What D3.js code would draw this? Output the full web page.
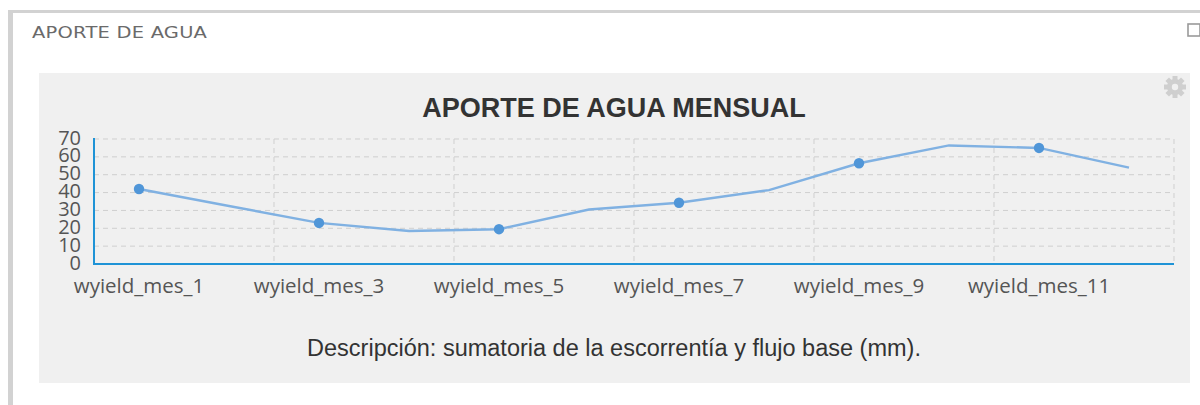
<!DOCTYPE html>
<html>
<head>
<meta charset="utf-8">
<script src="https://cdn.jsdelivr.net/npm/d3@7"></script>
<style>
  html, body { margin: 0; padding: 0; background: #fff; }
  svg { display: block; }
</style>
</head>
<body>
<svg id="chart" width="1200" height="405"></svg>
<script>
// Monthly water yield (mm)
const categories = ["wyield_mes_1","wyield_mes_2","wyield_mes_3","wyield_mes_4","wyield_mes_5","wyield_mes_6",
                    "wyield_mes_7","wyield_mes_8","wyield_mes_9","wyield_mes_10","wyield_mes_11","wyield_mes_12"];
const values = [42, 32.5, 23, 18.5, 19.5, 30.5, 34.3, 41.4, 56.4, 66.4, 65, 54];
const yTicks = [0, 10, 20, 30, 40, 50, 60, 70];
const panelTitle = "APORTE DE AGUA";
const chartTitle = "APORTE DE AGUA MENSUAL";
const description = "Descripción: sumatoria de la escorrentía y flujo base (mm).";

const svg = d3.select("#chart");

// widget frame
svg.append("rect").attr("x", 8).attr("y", 10).attr("width", 1192).attr("height", 3).attr("fill", "#d2d2d2");
svg.append("rect").attr("x", 8).attr("y", 10).attr("width", 5).attr("height", 395).attr("fill", "#d2d2d2");
// widget header, in a wide geometric style
svg.append("text").attr("transform", "translate(32,37.5) scale(1.18,1)")
  .attr("font-family", "'DejaVu Sans', sans-serif").attr("font-size", 16.5)
  .attr("letter-spacing", 0.2).attr("fill", "#6a6a6a").text(panelTitle);
svg.append("rect").attr("x", 1188).attr("y", 24).attr("width", 12).attr("height", 12)
  .attr("fill", "none").attr("stroke", "#9a9a9a").attr("stroke-width", 1.6);

// chart panel
svg.append("rect").attr("x", 39).attr("y", 73).attr("width", 1151).attr("height", 310).attr("fill", "#f0f0f0");

// settings gear
const gear = svg.append("g").attr("transform", "translate(1175,87)").attr("fill", "#cfcfcf");
gear.append("circle").attr("r", 8);
d3.range(8).forEach(i => {
  gear.append("rect").attr("x", -2.5).attr("y", -11).attr("width", 5).attr("height", 6)
    .attr("transform", `rotate(${i * 45})`);
});
gear.append("circle").attr("r", 3.2).attr("fill", "#f0f0f0");

svg.append("text").attr("x", 614).attr("y", 117).attr("text-anchor", "middle")
  .attr("font-family", "'Liberation Sans', Arial, sans-serif").attr("font-weight", "bold")
  .attr("font-size", 27).attr("fill", "#333").text(chartTitle);

// scales
const plotLeft = 94, plotRight = 1174, plotTop = 139, plotBottom = 264;
const x = d3.scaleBand().domain(categories).range([plotLeft, plotRight]);
const y = d3.scaleLinear().domain([0, 70]).range([plotBottom, plotTop]);
const cx = d => x(d) + x.bandwidth() / 2;

// horizontal grid
svg.append("g").selectAll("line").data(yTicks.filter(t => t > 0)).join("line")
  .attr("x1", plotLeft).attr("x2", plotRight).attr("y1", d => y(d)).attr("y2", d => y(d))
  .attr("stroke", "#cfcfcf").attr("stroke-width", 1).attr("stroke-dasharray", "5,4");

// vertical grid at every second category boundary
const vBounds = categories.map((c, i) => i).filter(i => i % 2 === 1).map(i => x(categories[i]) + x.bandwidth());
svg.append("g").selectAll("line").data(vBounds).join("line")
  .attr("x1", d => d).attr("x2", d => d).attr("y1", plotTop).attr("y2", plotBottom)
  .attr("stroke", "#cfcfcf").attr("stroke-width", 1).attr("stroke-dasharray", "5,4");

// y axis labels (tightly packed, as the axis is short)
const yAxis = d3.axisLeft(y).tickValues(yTicks).tickSize(0).tickPadding(0);
const yg = svg.append("g").attr("transform", `translate(${plotLeft - 13},0)`).call(yAxis);
yg.select(".domain").remove();
yg.selectAll("text").attr("font-family", "'Open Sans', sans-serif").attr("font-size", 20)
  .attr("fill", "#555").attr("dy", "0.25em");

// x axis labels (every second category)
const xAxis = d3.axisBottom(x).tickValues(categories.filter((c, i) => i % 2 === 0)).tickSize(0).tickPadding(0);
const xg = svg.append("g").attr("transform", `translate(0,${plotBottom + 14})`).call(xAxis);
xg.select(".domain").remove();
xg.selectAll("text").attr("font-family", "'Open Sans', sans-serif").attr("font-size", 20.5)
  .attr("fill", "#555").attr("dy", "0.71em");

// axis lines
svg.append("line").attr("x1", plotLeft).attr("x2", plotLeft).attr("y1", plotTop - 1).attr("y2", plotBottom + 1)
  .attr("stroke", "#1f93d6").attr("stroke-width", 2);
svg.append("line").attr("x1", plotLeft).attr("x2", plotRight).attr("y1", plotBottom).attr("y2", plotBottom)
  .attr("stroke", "#1f93d6").attr("stroke-width", 2);

// series line
const line = d3.line().x((d, i) => cx(categories[i])).y(d => y(d));
svg.append("path").datum(values).attr("d", line)
  .attr("fill", "none").attr("stroke", "#80b1e2").attr("stroke-width", 2.4);

// markers on labelled categories
svg.append("g").selectAll("circle").data(values.map((v, i) => ({ v, i })).filter(d => d.i % 2 === 0)).join("circle")
  .attr("cx", d => cx(categories[d.i])).attr("cy", d => y(d.v)).attr("r", 5.2)
  .attr("fill", "#5096d8");

// description
svg.append("text").attr("x", 614).attr("y", 356).attr("text-anchor", "middle")
  .attr("font-family", "'Liberation Sans', Arial, sans-serif").attr("font-size", 23.5)
  .attr("fill", "#333").text(description);
</script>
</body>
</html>
